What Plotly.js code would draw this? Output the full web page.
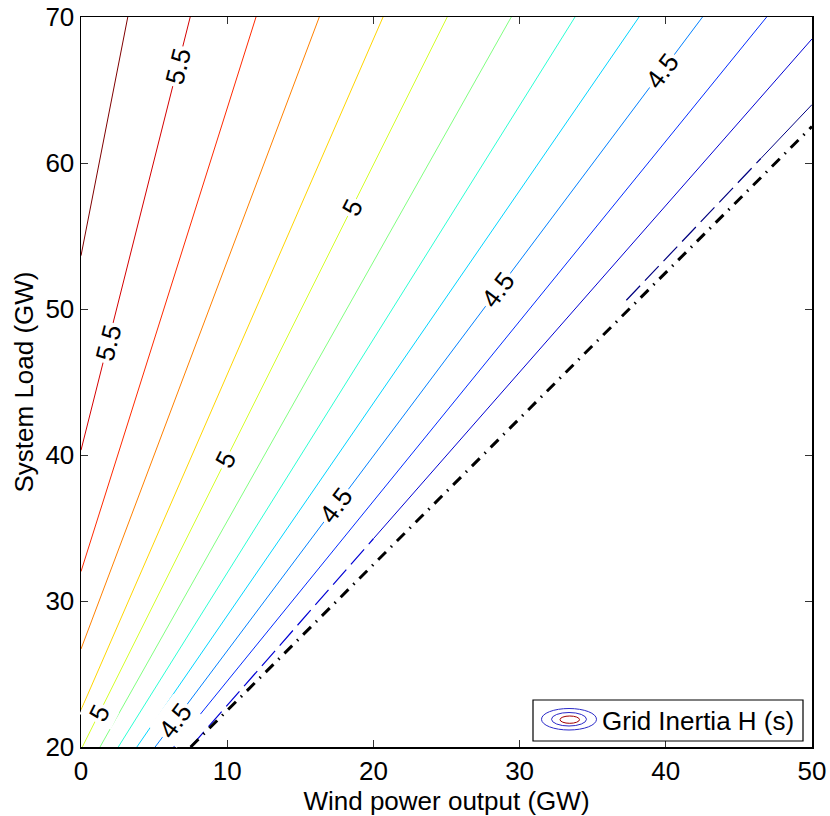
<!DOCTYPE html>
<html><head><meta charset="utf-8">
<script src="https://cdn.plot.ly/plotly-3.0.1.min.js"></script>
<style>body{margin:0;background:#fff}</style>
</head><body><div id="chart" style="width:830px;height:816px"></div>
<script>
// Contour levels of grid inertia H (s)
const levels     = [5.625, 5.5, 5.375, 5.25, 5.125, 5.0, 4.875, 4.75, 4.625, 4.5, 4.375, 4.25, 4.125];
// lower / left end of each contour line (GW)
const lineStartW = [0, 0, 0, 0, 0, 0.09, 1.30, 2.55, 3.82, 5.07, 6.34, 7.5, 37.3];
const lineStartL = [53.65, 40.33, 32.02, 26.71, 22.54, 20, 20, 20, 20, 20, 20, 20, 50.6];
// upper / right end of each contour line (GW)
const lineEndW   = [3.2, 7.47, 11.97, 16.30, 20.66, 25.05, 29.43, 33.79, 38.17, 42.51, 46.90, 50, 50];
const lineEndL   = [70, 70, 70, 70, 70, 70, 70, 70, 70, 70, 70, 68.5, 64.0];
// wind output below which the contour is only drawn in fragments (null = whole line solid)
const fragmentBelowW = [null, null, null, null, null, null, null, null, null, null, null, 20, 46.5];

// feasibility boundary (dash-dot)
const boundaryW = [7.5, 50];
const boundaryL = [20, 62.5];

// contour labels: text and system load at label centre
const labelText = ['5.5', '5.5', '5', '5', '5', '4.5', '4.5', '4.5', '4.5'];
const labelL    = [66.6, 47.7, 56.95, 39.64, 22.34, 66.3, 51.3, 36.55, 21.8];

const xRange = [0, 50], yRange = [20, 70];
const M = {l: 81, r: 18, t: 17, b: 69};
const W = 830, H = 816;
const plotW = W - M.l - M.r, plotH = H - M.t - M.b;
const FONT = 'Liberation Sans, Arial, Helvetica, sans-serif';
const FS = 26;

function clamp(v){ return Math.max(0, Math.min(1, v)); }
function jet(t){
  const r = clamp(Math.min(4*t - 1.5, -4*t + 4.5));
  const g = clamp(Math.min(4*t - 0.5, -4*t + 3.5));
  const b = clamp(Math.min(4*t + 0.5, -4*t + 2.5));
  return 'rgb(' + Math.round(r*255) + ',' + Math.round(g*255) + ',' + Math.round(b*255) + ')';
}
const lvMin = Math.min(...levels), lvMax = Math.max(...levels);
function colorOf(lv){ return jet((lv - lvMin) / (lvMax - lvMin)); }

const traces = [];
levels.forEach((lv, i) => {
  const c = colorOf(lv);
  const w0 = lineStartW[i], l0 = lineStartL[i], w1 = lineEndW[i], l1 = lineEndL[i];
  const fb = fragmentBelowW[i];
  if (fb === null) {
    traces.push({x: [w0, w1], y: [l0, l1], mode: 'lines', line: {color: c, width: 1}, hoverinfo: 'skip', showlegend: false});
  } else {
    const ls = l0 + (fb - w0) * (l1 - l0) / (w1 - w0);
    traces.push({x: [fb, w1], y: [ls, l1], mode: 'lines', line: {color: c, width: 1}, hoverinfo: 'skip', showlegend: false});
    traces.push({x: [w0, fb], y: [l0, ls], mode: 'lines', line: {color: c, width: 1.2, dash: '20px,7px'}, hoverinfo: 'skip', showlegend: false});
  }
});
traces.push({x: boundaryW, y: boundaryL, mode: 'lines', line: {color: '#000', width: 3, dash: '11px,7px,1.5px,7px'}, hoverinfo: 'skip', showlegend: false});

const annotations = labelText.map((txt, k) => {
  const lv = parseFloat(txt);
  const i = levels.indexOf(lv);
  const w0 = lineStartW[i], l0 = lineStartL[i], w1 = lineEndW[i], l1 = lineEndL[i];
  const L = labelL[k];
  const Wv = w0 + (L - l0) * (w1 - w0) / (l1 - l0);
  const dx = (w1 - w0) * plotW / (xRange[1] - xRange[0]);
  const dy = (l1 - l0) * plotH / (yRange[1] - yRange[0]);
  const ang = -Math.atan2(dy, dx) * 180 / Math.PI;
  return {x: Wv, y: L, xref: 'x', yref: 'y', text: txt, showarrow: false, textangle: ang,
          font: {family: FONT, size: FS, color: '#000'}, bgcolor: '#fff', borderpad: 2};
});

// manual legend (MATLAB contour legend)
function px2x(p){ return (p - M.l) / plotW; }
function px2y(p){ return (H - M.b - p) / plotH; }
const shapes = [
  {type: 'rect', xref: 'paper', yref: 'paper', x0: px2x(533), x1: px2x(803), y0: px2y(741), y1: px2y(700), line: {color: '#000', width: 1.2}, fillcolor: '#fff', layer: 'above'},
  {type: 'circle', xref: 'paper', yref: 'paper', x0: px2x(541.5), x1: px2x(596.5), y0: px2y(730), y1: px2y(708.5), line: {color: '#2a2ac8', width: 1}, layer: 'above'},
  {type: 'circle', xref: 'paper', yref: 'paper', x0: px2x(551.5), x1: px2x(586.5), y0: px2y(726), y1: px2y(712.5), line: {color: '#2a2ac8', width: 1}, layer: 'above'},
  {type: 'circle', xref: 'paper', yref: 'paper', x0: px2x(560), x1: px2x(579.5), y0: px2y(723.3), y1: px2y(716), line: {color: '#a00000', width: 1}, layer: 'above'}
];
annotations.push({xref: 'paper', yref: 'paper', x: px2x(600), y: px2y(721), xanchor: 'left', yanchor: 'middle',
  text: 'Grid Inertia H (s)', showarrow: false, font: {family: FONT, size: FS, color: '#000'}});

const axisCommon = {
  ticks: 'inside', ticklen: 7, tickwidth: 1, tickcolor: '#333', mirror: 'ticks',
  showline: true, linecolor: '#000', linewidth: 1.5, showgrid: false, zeroline: false,
  tickfont: {family: FONT, size: FS, color: '#000'}
};

const layout = {
  width: W, height: H, margin: M, paper_bgcolor: '#fff', plot_bgcolor: '#fff',
  xaxis: Object.assign({}, axisCommon, {range: xRange, tick0: 0, dtick: 10,
    title: {text: 'Wind power output (GW)', font: {family: FONT, size: FS, color: '#000'}, standoff: 2}}),
  yaxis: Object.assign({}, axisCommon, {range: yRange, tick0: 20, dtick: 10,
    title: {text: 'System Load (GW)', font: {family: FONT, size: FS, color: '#000'}, standoff: 4}}),
  annotations: annotations, shapes: shapes, showlegend: false
};

Plotly.newPlot('chart', traces, layout, {displayModeBar: false, staticPlot: true});
</script></body></html>
